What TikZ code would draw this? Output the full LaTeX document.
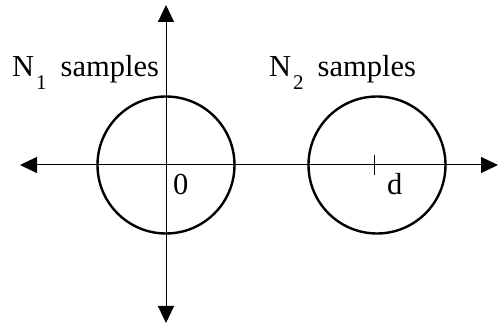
\documentclass[tikz,border=0pt]{standalone}
\usepackage{fontspec}
\setmainfont{Liberation Serif}
\usetikzlibrary{arrows.meta}

\newcommand{\subN}[1]{N\hspace{2pt}\raisebox{-13pt}{\fontsize{21}{24}\selectfont #1}\hspace{14pt}samples}

\begin{document}
\begin{tikzpicture}[x=1pt, y=-1pt,
    every node/.style={font=\fontsize{30.5}{36}\selectfont, inner sep=0pt},
    axis/.style={draw, line width=1pt, {Triangle[length=17pt,width=16pt]}-{Triangle[length=17pt,width=16pt]}},
    blob/.style={draw, circle, line width=2.4pt, minimum size=137pt}
]
    \useasboundingbox (0,0) rectangle (499,326);
    % axes
    \coordinate (xl) at (20,165);
    \coordinate (xr) at (498,165);
    \coordinate (yt) at (166,5);
    \coordinate (yb) at (166,323);
    \draw[axis] (xl) -- (xr);
    \draw[axis] (yt) -- (yb);
    % the two sample clouds
    \node[blob] (c1) at (166,165) {};
    \node[blob] (c2) at (377,165) {};
    \coordinate (tt) at (374,155);
    \coordinate (tb) at (374,175);
    \draw[line width=1pt] (tt) -- (tb);
    % labels
    \node[anchor=base west] (n1) at (12,77) {\subN{1}};
    \node[anchor=base west] (n2) at (269,77) {\subN{2}};
    \node[anchor=base west] (zero) at (173,195) {0};
    \node[anchor=base west] (dist) at (387,195) {d};
\end{tikzpicture}
\end{document}
